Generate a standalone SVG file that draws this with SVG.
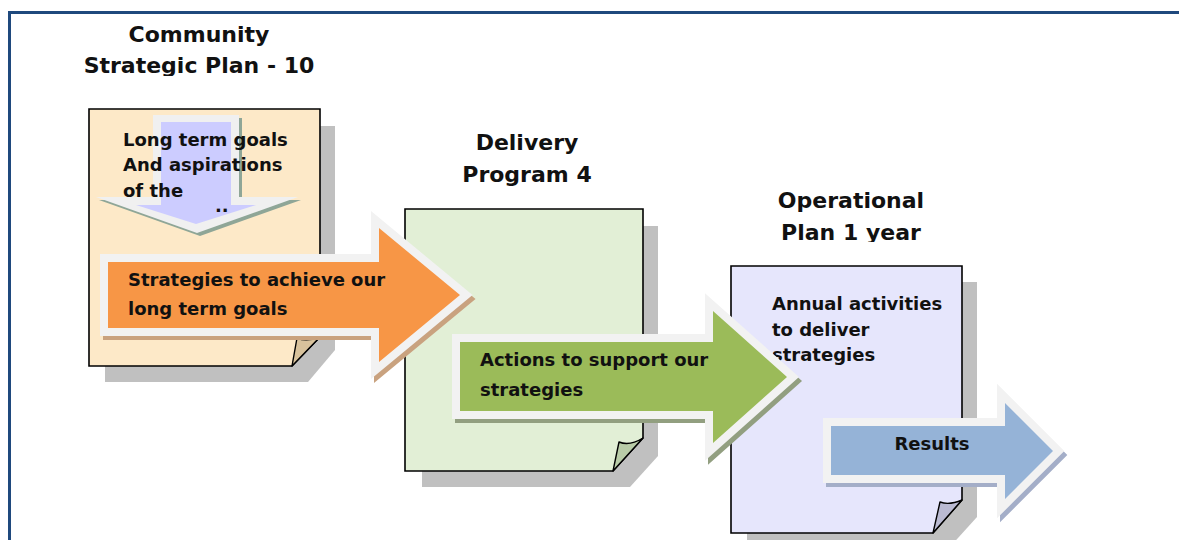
<svg xmlns="http://www.w3.org/2000/svg" width="1179" height="540" viewBox="0 0 1179 540">
  <style>
    .title { font-family: "DejaVu Sans", "Liberation Sans", sans-serif; font-weight: bold; font-size: 22px; fill: #111; text-anchor: middle; }
    .body { font-family: "DejaVu Sans", "Liberation Sans", sans-serif; font-weight: bold; font-size: 18px; fill: #111; }
    .doc { stroke: #000; stroke-width: 1.6; stroke-linejoin: miter; }
    .fold { stroke: #000; stroke-width: 1.4; stroke-linejoin: round; }
    .shadow { fill: #c0c0c0; }
    .arrow { stroke: #f2f2f2; stroke-width: 16; stroke-linejoin: miter; stroke-miterlimit: 4; paint-order: stroke; }
    .ashadow { stroke-width: 16; stroke-linejoin: miter; stroke-miterlimit: 4; paint-order: stroke; }
  </style>
  <defs>
    <clipPath id="clipTitle1"><rect x="0" y="0" width="400" height="76"/></clipPath>
    <clipPath id="clipTitle2"><rect x="400" y="100" width="260" height="86"/></clipPath>
    <clipPath id="clipTitle3"><rect x="740" y="170" width="240" height="72"/></clipPath>
  </defs>

  <rect width="1179" height="540" fill="#ffffff"/>
  <!-- page frame -->
  <rect x="9.5" y="12.5" width="1200" height="600" fill="none" stroke="#1f497d" stroke-width="3"/>

  <!-- Community Strategic Plan -->
  <g id="node-csp">
    <g clip-path="url(#clipTitle1)">
      <text class="title" x="199" y="42">Community</text>
      <text class="title" x="199" y="73">Strategic Plan - 10</text>
    </g>
    <path class="shadow" d="M105,126 H335 V350 L308,382 H105 Z"/>
    <path class="doc" fill="#fde9c8" d="M89,109 H320 V337 L292,366 H89 Z"/>
    <path class="fold" fill="#d8c29c" d="M292,366 L297,338 C304,341 312,340 320,337 Z"/>
    <!-- downward arrow -->
    <polygon fill="#8fa697" points="156,118 242,118 242,200 301,200 200,236 99,200 156,200"/>
    <polygon fill="#f0f0f0" points="153,115 239,115 239,197 298,197 197,233 96,197 153,197"/>
    <polygon fill="#ccccff" points="161,122 231,122 231,205 256,205 196,224 136,205 161,205"/>
    <text class="body" x="123" y="146">Long term goals</text>
    <text class="body" x="123" y="171">And aspirations</text>
    <text class="body" x="123" y="197">of the</text>
    <text class="body" x="215" y="212">..</text>
  </g>

  <!-- Delivery Program -->
  <g id="node-dp">
    <g clip-path="url(#clipTitle2)">
      <text class="title" x="527" y="150">Delivery</text>
      <text class="title" x="527" y="182">Program 4</text>
    </g>
    <path class="shadow" d="M422,226 H658 V456 L630,487 H422 Z"/>
    <path class="doc" fill="#e2efd6" d="M405,209 H643 V438 L613,471 H405 Z"/>
    <path class="fold" fill="#b9cca8" d="M613,471 L619,442 C626,445 635,443 643,438 Z"/>
  </g>

  <!-- Operational Plan -->
  <g id="node-op">
    <g clip-path="url(#clipTitle3)">
      <text class="title" x="851" y="208">Operational</text>
      <text class="title" x="851" y="240">Plan 1 year</text>
    </g>
    <path class="shadow" d="M747,282 H977 V517 L948,549 H747 Z"/>
    <path class="doc" fill="#e6e6fc" d="M731,266 H962 V500 L933,533 H731 Z"/>
    <path class="fold" fill="#babad2" d="M933,533 L940,502 C948,505 955,503 962,500 Z"/>
    <text class="body" x="772" y="310">Annual activities</text>
    <text class="body" x="772" y="336">to deliver</text>
    <text class="body" x="772" y="361">strategies</text>
  </g>

  <!-- block arrows between the plans -->
  <g id="connectors">
    <g id="arrow-strategies">
      <polygon class="ashadow" fill="#c9a27f" stroke="#c9a27f" transform="translate(3,4)" points="108,262 379,262 379,228 460,295 379,362 379,328 108,328"/>
      <polygon class="arrow" fill="#f79646" points="108,262 379,262 379,228 460,295 379,362 379,328 108,328"/>
      <text class="body" x="128" y="286">Strategies to achieve our</text>
      <text class="body" x="128" y="315">long term goals</text>
    </g>
    <g id="arrow-actions">
      <polygon class="ashadow" fill="#929f80" stroke="#929f80" transform="translate(3,4)" points="460,342 713,342 713,311 787,377 713,443 713,411 460,411"/>
      <polygon class="arrow" fill="#9bbb59" points="460,342 713,342 713,311 787,377 713,443 713,411 460,411"/>
      <text class="body" x="480" y="366">Actions to support our</text>
      <text class="body" x="480" y="396">strategies</text>
    </g>
    <g id="arrow-results">
      <polygon class="ashadow" fill="#a4aec8" stroke="#a4aec8" transform="translate(3,4)" points="831,426 1005,426 1005,403 1053,451 1005,499 1005,475 831,475"/>
      <polygon class="arrow" fill="#95b3d7" points="831,426 1005,426 1005,403 1053,451 1005,499 1005,475 831,475"/>
      <text class="body" x="932" y="450" text-anchor="middle">Results</text>
    </g>
  </g>
</svg>
